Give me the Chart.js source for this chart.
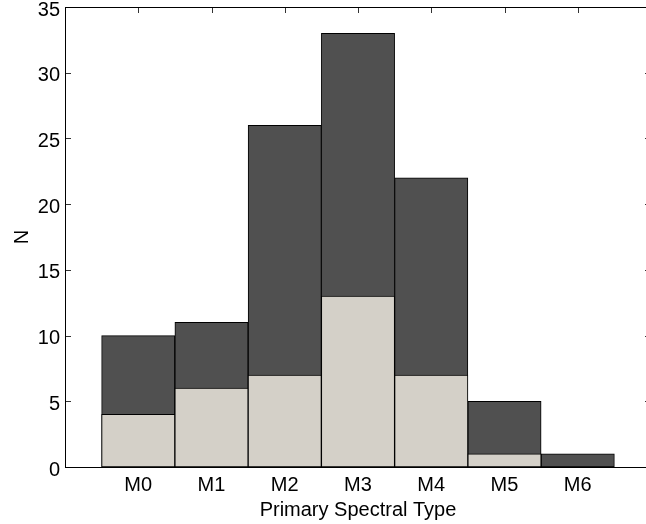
<!DOCTYPE html>
<html>
<head>
<meta charset="utf-8">
<script src="https://cdn.jsdelivr.net/npm/chart.js@4.4.1/dist/chart.umd.min.js"></script>
<style>
  html, body { margin: 0; padding: 0; background: #fff; overflow: hidden; }
  canvas { display: block; }
</style>
</head>
<body>
<canvas id="spectralChart" width="660" height="524"></canvas>
<script>
const categories = ['M0', 'M1', 'M2', 'M3', 'M4', 'M5', 'M6'];
const totalCounts = [10, 11, 26, 33, 22, 5, 1];
const subsetCounts = [4, 6, 7, 13, 7, 1, 0];
const yTicks = [0, 5, 10, 15, 20, 25, 30, 35];

const FONT = { family: "'Liberation Sans', Arial, sans-serif", size: 20 };
const TICK = 6;

// one empty slot on each side so the bars sit away from the box edges
const labels = ['', ...categories, ''];
const pad = arr => [null, ...arr, null];

// box around the plot with inward ticks on all four sides
const axisFrame = {
  id: 'axisFrame',
  afterDatasetsDraw(chart) {
    const { ctx, chartArea: a, scales: { x, y } } = chart;
    ctx.save();
    ctx.lineWidth = 1;
    ctx.strokeStyle = '#333';
    ctx.beginPath();
    yTicks.forEach(v => {
      const py = Math.round(y.getPixelForValue(v)) + 0.5;
      ctx.moveTo(a.left, py); ctx.lineTo(a.left + TICK, py);
      ctx.moveTo(a.right, py); ctx.lineTo(a.right - TICK, py);
    });
    categories.forEach((c, i) => {
      const px = Math.round(x.getPixelForValue(i + 1)) + 0.5;
      ctx.moveTo(px, a.top); ctx.lineTo(px, a.top + TICK);
    });
    ctx.stroke();
    ctx.strokeStyle = '#000';
    ctx.strokeRect(Math.round(a.left) + 0.5, Math.round(a.top) + 0.5,
      Math.round(a.right - a.left), Math.round(a.bottom - a.top));
    ctx.restore();
  }
};

new Chart(document.getElementById('spectralChart'), {
  type: 'bar',
  data: {
    labels: labels,
    datasets: [{
      label: 'subset',
      data: pad(subsetCounts),
      backgroundColor: '#d4d0c8',
      borderColor: '#000',
      borderWidth: 1,
      borderSkipped: false,
      grouped: false,
      barPercentage: 1,
      categoryPercentage: 1
    }, {
      label: 'all',
      data: pad(totalCounts),
      backgroundColor: '#505050',
      borderColor: '#000',
      borderWidth: 1,
      borderSkipped: false,
      grouped: false,
      barPercentage: 1,
      categoryPercentage: 1
    }]
  },
  options: {
    responsive: false,
    animation: false,
    layout: { padding: { top: 7, right: 9, left: 0, bottom: 0 } },
    plugins: { legend: { display: false }, tooltip: { enabled: false } },
    scales: {
      x: {
        offset: false,
        grid: { display: false, drawTicks: false },
        border: { display: false },
        ticks: { color: '#000', font: FONT, padding: 6, autoSkip: false, maxRotation: 0 },
        title: { display: true, text: 'Primary Spectral Type', color: '#000', font: FONT, padding: { top: 0, bottom: 2 } },
        afterFit: s => { s.height = 57; s.paddingLeft = 0; s.paddingRight = 0; }
      },
      y: {
        min: 0,
        max: 35,
        grid: { display: false, drawTicks: false },
        border: { display: false },
        ticks: { stepSize: 5, color: '#000', font: FONT, padding: 5, labelOffset: 3 },
        title: { display: true, text: 'N', color: '#000', font: FONT, padding: { top: 10, bottom: 0 } },
        afterFit: s => { s.width = 65; s.paddingTop = 0; s.paddingBottom = 0; }
      }
    }
  },
  plugins: [axisFrame]
});
</script>
</body>
</html>
